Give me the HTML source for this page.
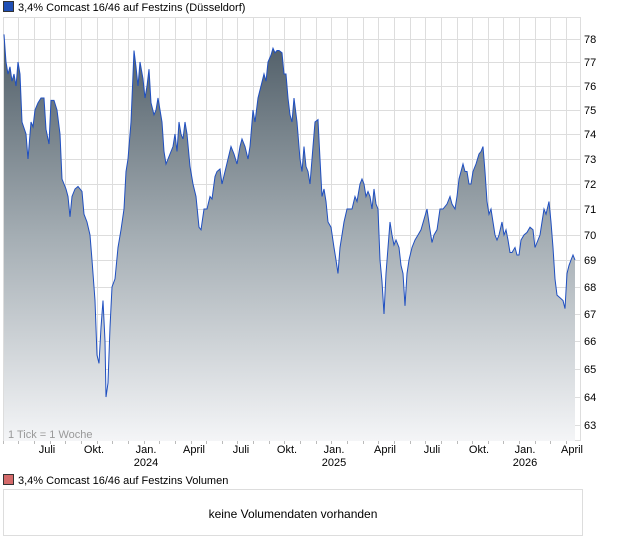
<!DOCTYPE html>
<html><head><meta charset="utf-8"><style>
body{margin:0;width:620px;height:546px;background:#fff;font-family:"Liberation Sans",sans-serif;overflow:hidden;position:relative}
.t{position:absolute;font-size:11px;color:#000}
</style></head><body>
<div class="t" style="left:3px;top:1px;font-size:11px"><span style="display:inline-block;width:9px;height:9px;background:#1f4fb5;border:1px solid #333;vertical-align:-1px;margin-right:4px"></span>3,4% Comcast 16/46 auf Festzins (Düsseldorf)</div>
<svg id="s" width="620" height="546" style="position:absolute;left:0;top:0"></svg>
<div class="t" style="left:3px;top:474px"><span style="display:inline-block;width:9px;height:9px;background:#d46a6a;border:1px solid #333;vertical-align:-1px;margin-right:4px"></span>3,4% Comcast 16/46 auf Festzins Volumen</div>
<div style="position:absolute;left:3px;top:489px;width:580px;height:47px;border:1px solid #ddd;box-sizing:border-box"></div>
<div class="t" style="left:0;width:586px;text-align:center;top:507px;font-size:12px">keine Volumendaten vorhanden</div>
<script>
var tk=[[78,39],[77,62],[76,86],[75,110],[74,134],[73,159],[72,184],[71,209],[70,235],[69,260],[68,287],[67,314],[66,341],[65,369],[64,397],[63,425]];
function Y(v){if(v>=78)return 39-(v-78)*23;for(var i=0;i<tk.length-1;i++){var a=tk[i],b=tk[i+1];if(v<=a[0]&&v>=b[0])return a[1]+(a[0]-v)*(b[1]-a[1]);}return 425+(63-v)*28;}
var d=[4,78.2,6,77,8,76.5,10,76.8,12,76.2,14,76.5,16,76,18,77,20,76.5,22,74.5,26,74,28,73,31,74.5,33,74.3,35,75,38,75.3,41,75.5,44,75.5,46,74.2,49,73.6,51,75.4,54,75.4,57,75,60,74,62,72.2,64,72,66,71.8,68,71.5,70,70.7,72,71.5,75,71.8,78,71.9,82,71.7,84,70.8,87,70.5,90,70,92,69,95,67.5,97,65.5,99,65.2,101,66.5,103,67.5,105,66,106,64,108,64.5,110,66.5,112,68,115,68.3,118,69.5,121,70.2,124,71,126,72.5,128,73,131,74.5,134,77.5,136,76.8,138,76,140,77,143,76.3,145,75.5,147,76,149,76.7,151,75.3,154,74.8,156,75,158,75.5,160,75,162,74.5,164,73.3,166,72.8,168,73,170,73.2,173,73.5,175,74,177,73.3,179,74.5,181,74,183,73.8,185,74.5,187,74,190,72.7,193,72,196,71.5,199,70.3,201,70.2,204,71,207,71,210,71.5,212,71.4,215,72.3,217,72.5,220,72.6,222,72,225,72.5,228,73,231,73.5,234,73.2,237,72.8,240,73.5,242,73.8,245,73.5,248,73,250,73.5,253,75,255,74.5,258,75.5,261,76,264,76.5,266,76.2,268,77,271,77.3,273,77.6,275,77.4,277,77.5,279,77.5,282,77.4,284,76.5,286,76.5,288,75.5,290,74.8,292,74.5,294,75.5,297,74.5,300,73,302,72.5,304,73.5,306,72.7,308,72.5,310,72,313,73.5,315,74.5,318,74.6,320,73,322,71.5,324,71.8,326,71.3,328,70.5,331,70.3,334,69.5,336,69,338,68.5,340,69.5,342,70,344,70.5,347,71,350,71,352,71,355,71.5,357,71.3,360,72,362,72.2,364,72,366,71.5,368,71.7,370,71.5,372,71,374,71.8,376,71.2,378,71,380,69,382,68.2,384,67,386,68.5,388,69.5,390,70.5,392,70,394,69.6,396,69.8,399,69.5,401,68.8,403,68.5,405,67.3,407,68.5,409,69,412,69.5,415,69.8,418,70,421,70.2,424,70.6,427,71,430,70.2,432,69.7,434,70,437,70.2,440,71,443,71,447,71.2,450,71.5,452,71.2,455,71,457,71.5,459,72.2,461,72.5,463,72.8,465,72.5,467,72.5,469,72,471,72,473,72.5,476,72.8,479,73.2,481,73.3,483,73.5,485,72.5,487,71.3,489,70.8,491,71,493,70.5,495,70,497,69.8,499,70,502,70.5,504,70,506,70.2,508,69.8,510,69.3,512,69.3,515,69.5,517,69.2,519,69.2,521,69.8,524,70,527,70.1,530,70.3,533,70.2,535,69.5,537,69.7,540,70,542,70.5,544,71,546,70.8,549,71.3,551,70.5,553,69.5,555,68.3,557,67.7,560,67.6,563,67.5,565,67.2,567,68.5,569,68.8,571,69,573,69.2,575,69];
var s='<defs><linearGradient id="g" x1="0" y1="35" x2="0" y2="441" gradientUnits="userSpaceOnUse"><stop offset="0" stop-color="#4e5c66"/><stop offset="0.5" stop-color="#a5aeb4"/><stop offset="1" stop-color="#f4f5f7"/></linearGradient></defs>';
s+='<rect x="3.5" y="17.5" width="577" height="423" fill="#fff" stroke="#ddd"/>';
for(var i=0;i<tk.length;i++)s+='<line x1="3" x2="581" y1="'+tk[i][1]+'.5" y2="'+tk[i][1]+'.5" stroke="#ddd"/>';
for(var x=2.7;x<581;x+=15.65){var xx=Math.round(x)+.5;s+='<line x1="'+xx+'" x2="'+xx+'" y1="17" y2="441" stroke="#ddd"/><line x1="'+xx+'" x2="'+xx+'" y1="441" y2="444" stroke="#bbb"/>';}
var p='',l='';for(i=0;i<d.length;i+=2){var pt=d[i]+','+Y(d[i+1]).toFixed(1)+' ';p+=pt;l+=pt;}
s+='<polygon points="4,441 '+p+'575,441" fill="url(#g)"/>';
s+='<polyline points="'+l+'" fill="none" stroke="#1f4fc0" stroke-width="1"/>';
for(i=0;i<tk.length;i++)s+='<text x="584" y="'+(tk[i][1]+4)+'" font-size="11" font-family="Liberation Sans">'+tk[i][0]+'</text>';
var ml=[[47,'Juli'],[94,'Okt.'],[146,'Jan.'],[194,'April'],[241,'Juli'],[287,'Okt.'],[334,'Jan.'],[385,'April'],[432,'Juli'],[479,'Okt.'],[525,'Jan.'],[572,'April']];
for(i=0;i<ml.length;i++)s+='<text x="'+ml[i][0]+'" y="453" font-size="11" text-anchor="middle" font-family="Liberation Sans">'+ml[i][1]+'</text>';
[[146,'2024'],[334,'2025'],[525,'2026']].forEach(function(a){s+='<text x="'+a[0]+'" y="466" font-size="11" text-anchor="middle" font-family="Liberation Sans">'+a[1]+'</text>';});
s+='<text x="8" y="438" font-size="11" fill="#999" font-family="Liberation Sans">1 Tick = 1 Woche</text>';
document.getElementById('s').innerHTML=s;
</script>
</body></html>
